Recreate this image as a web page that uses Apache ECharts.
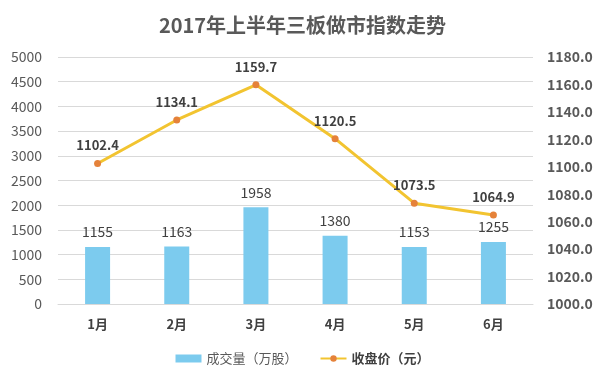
<!DOCTYPE html>
<html>
<head>
<meta charset="utf-8">
<script src="https://cdn.jsdelivr.net/npm/echarts@6/dist/echarts.min.js"></script>
<style>
  html, body { margin: 0; padding: 0; background: #fff; }
  #main { width: 605px; height: 378px; }
</style>
</head>
<body>
<div id="main"></div>
<script>
var months = ['1月', '2月', '3月', '4月', '5月', '6月'];
var volume = [1155, 1163, 1958, 1380, 1153, 1255];
var closePrice = [1102.4, 1134.1, 1159.7, 1120.5, 1073.5, 1064.9];

var font = '"Noto Sans CJK SC", "Microsoft YaHei", sans-serif';
var myChart = echarts.init(document.getElementById('main'));

var option = {
  backgroundColor: '#fff',
  textStyle: { fontFamily: font },
  title: {
    text: '2017年上半年三板做市指数走势',
    left: 'center',
    top: 10,
    textStyle: { fontSize: 20, fontWeight: 'bold', color: '#595959', fontFamily: font }
  },
  legend: {
    bottom: 8,
    itemGap: 22,
    itemWidth: 26,
    itemHeight: 8,
    textStyle: { fontSize: 13, color: '#595959' },
    data: [
      { name: '成交量（万股）', icon: 'rect' },
      { name: '收盘价（元）', textStyle: { fontWeight: 'bold', color: '#404040' } }
    ]
  },
  grid: { left: 58, right: 72, top: 57, bottom: 74 },
  xAxis: {
    type: 'category',
    data: months,
    axisLine: { lineStyle: { color: '#d9d9d9' } },
    axisTick: { show: false },
    axisLabel: { fontSize: 13, fontWeight: 'bold', color: '#404040', margin: 14 }
  },
  yAxis: [
    {
      type: 'value',
      min: 0, max: 5000, interval: 500,
      axisLine: { show: false },
      axisTick: { show: false },
      splitLine: { lineStyle: { color: '#d9d9d9' } },
      axisLabel: {
        fontSize: 14, color: '#595959', margin: 16,
        formatter: function (v) { return String(v); }
      }
    },
    {
      type: 'value',
      min: 1000, max: 1180, interval: 20,
      axisLine: { show: false },
      axisTick: { show: false },
      splitLine: { show: false },
      axisLabel: {
        fontSize: 14, fontWeight: 'bold', color: '#595959', margin: 14,
        formatter: function (v) { return v.toFixed(1); }
      }
    }
  ],
  series: [
    {
      name: '成交量（万股）',
      type: 'bar',
      data: volume,
      barWidth: 25,
      itemStyle: { color: '#7ccbee' },
      label: { show: true, position: 'top', distance: 8, fontSize: 14, color: '#404040' }
    },
    {
      name: '收盘价（元）',
      type: 'line',
      yAxisIndex: 1,
      data: closePrice,
      symbol: 'circle',
      symbolSize: 7,
      lineStyle: { color: '#f2c430', width: 3 },
      itemStyle: { color: '#e5823a' },
      label: {
        show: true, position: 'top', distance: 8,
        fontSize: 13, fontWeight: 'bold', color: '#404040',
        formatter: function (p) { return p.value.toFixed(1); }
      }
    }
  ]
};
myChart.setOption(option);
</script>
</body>
</html>
